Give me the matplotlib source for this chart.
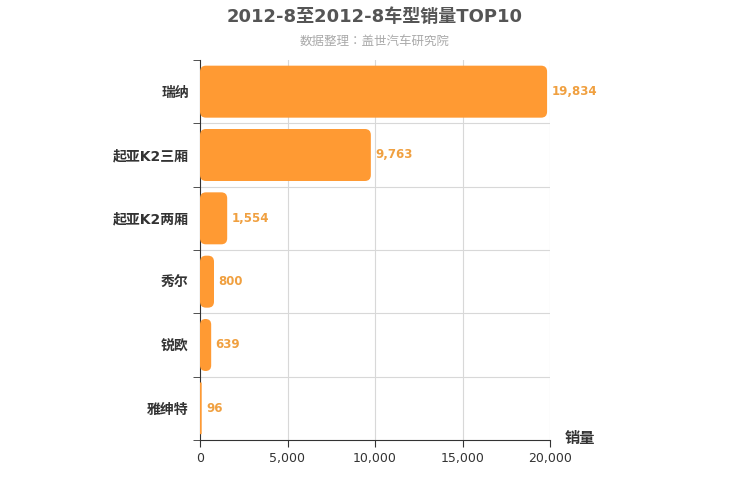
import matplotlib
matplotlib.use("Agg")
import matplotlib.pyplot as plt
from matplotlib.patches import FancyBboxPatch

plt.rcParams["font.family"] = ["DejaVu Sans", "Noto Sans CJK JP", "Noto Sans CJK SC",
                               "Noto Sans CJK TC", "Noto Sans CJK KR"]

categories = ["瑞纳", "起亚K2三厢", "起亚K2两厢", "秀尔", "锐欧", "雅绅特"]
values = [19834, 9763, 1554, 800, 639, 96]
xticks = [0, 5000, 10000, 15000, 20000]
xticklabels = ["0", "5,000", "10,000", "15,000", "20,000"]

fig = plt.figure(figsize=(7.5, 5), dpi=100)
ax = fig.add_axes([200/750, 1-440/500, 350/750, 380/500])
ax.set_xlim(0, 20000)
ax.set_ylim(5.5, -0.5)

xpp = 20000/350
ypp = 6/380
h = 52*ypp
for i, v in enumerate(values):
    p = FancyBboxPatch((0, i - h/2), v, h,
                       boxstyle=f"round,pad=0,rounding_size={min(6*xpp, v/2)}",
                       mutation_aspect=ypp/xpp, fc="#FF9A33", ec="none", zorder=3)
    ax.add_patch(p)
    ax.text(v + 250, i, f"{v:,}", va="center", ha="left", color="#F0A040",
            fontsize=8.5, fontweight="bold", zorder=4)

for x in xticks[1:]:
    ax.axvline(x, color="#D8D8D8", lw=0.8, zorder=1)
for b in [0.5, 1.5, 2.5, 3.5, 4.5]:
    ax.axhline(b, color="#D8D8D8", lw=0.8, zorder=1)

ax.set_yticks(range(len(categories)))
ax.set_yticklabels(categories, fontsize=10, fontweight="bold", color="#333333")
ax.set_yticks([-0.5, 0.5, 1.5, 2.5, 3.5, 4.5, 5.5], minor=True)
ax.tick_params(axis="y", which="major", length=0, pad=8)
ax.tick_params(axis="y", which="minor", length=5, color="#333333")
ax.set_xticks(xticks)
ax.set_xticklabels(xticklabels, fontsize=9, color="#333333")
ax.tick_params(axis="x", length=5, color="#333333")
for s in ["top", "right"]:
    ax.spines[s].set_visible(False)
ax.spines["left"].set_color("#333333")
ax.spines["bottom"].set_color("#333333")

fig.text(0.5, 1-17/500, "2012-8至2012-8车型销量TOP10", ha="center", va="center",
         fontsize=13, fontweight="bold", color="#555555")
fig.text(0.5, 1-41/500, "数据整理：盖世汽车研究院", ha="center", va="center",
         fontsize=9, color="#AAAAAA")
fig.text(565/750, 1-438/500, "销量", ha="left", va="center", fontsize=11,
         fontweight="bold", color="#333333")

fig.savefig("out.png", dpi=100)
